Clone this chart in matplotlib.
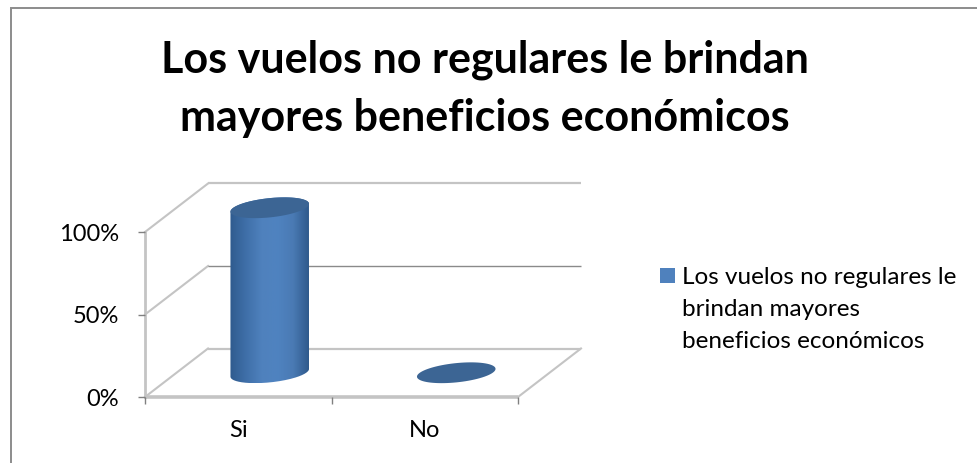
import numpy as np
import matplotlib
matplotlib.use("Agg")
import matplotlib.pyplot as plt
from matplotlib.patches import Polygon, Rectangle, PathPatch
from matplotlib.path import Path
from matplotlib.colors import LinearSegmentedColormap

W, H = 977, 463

categories = ["Si", "No"]
values = [100, 0]
y_ticks = [0, 50, 100]
y_labels = ["0%", "50%", "100%"]
title_lines = ["Los vuelos no regulares le brindan", "mayores beneficios económicos"]
legend_lines = ["Los vuelos no regulares le", "brindan mayores", "beneficios económicos"]

plt.rcParams["font.family"] = ["Lato", "DejaVu Sans"]

fig = plt.figure(figsize=(W / 100, H / 100), dpi=100, facecolor="white")

# Chart frame
fig.add_artist(Rectangle((10.5 / W, -0.01), (W + 20) / W, 1.01 - 7.5 / H,
                         transform=fig.transFigure, fill=False,
                         edgecolor="#8c8c8c", linewidth=1.4))

# Front plane of the 3-D plot box
left, right, bottom, top = 145, 518, 397, 232
ax = fig.add_axes([left / W, 1 - bottom / H, (right - left) / W, (bottom - top) / H])
ax.set_xlim(0, len(categories))
ax.set_ylim(0, 100)
ax.patch.set_visible(False)
for s in ax.spines.values():
    s.set_visible(False)

# Oblique projection: depth in [0, 1] shifts a point back and up
px_x = (right - left) / len(categories)
px_y = (bottom - top) / 100
depth_x = 63 / px_x
depth_y = 48.5 / px_y


def project(x, v, d):
    return x + d * depth_x, v + d * depth_y


# Walls and floor
wall_light = "#c4c4c4"
wall_dark = "#8a8a8a"
for v in y_ticks:
    x0, y0 = project(0, v, 0)
    x1, y1 = project(0, v, 1)
    x2, y2 = project(len(categories), v, 1)
    ax.plot([x0, x1], [y0, y1], color=wall_light, lw=1.5, clip_on=False, zorder=1)
    colour, lw = (wall_dark, 1.0) if v == 50 else (wall_light, 1.6)
    ax.plot([x1, x2], [y1, y2], color=colour, lw=lw, clip_on=False,
            solid_capstyle="butt", zorder=1)
x0, y0 = project(len(categories), 0, 0)
x1, y1 = project(len(categories), 0, 1)
ax.plot([x0, x1], [y0, y1], color=wall_light, lw=1.5, clip_on=False, zorder=1)
ax.plot([0, 0], [0, 100], color=wall_light, lw=2.0, clip_on=False, zorder=1)
ax.plot([0, len(categories)], [0, 0], color=wall_light, lw=2.6, clip_on=False,
        solid_capstyle="butt", zorder=1)

# Cylinders
half_w = 39.5
half_h = 9.6
tilt = np.radians(6)
body_cmap = LinearSegmentedColormap.from_list(
    "body", ["#2f5b8e", "#3f6fa8", "#4f81bd", "#4f83c0", "#4a7ab4", "#2f5a8c"])
cap_colour = "#3c6594"


def ellipse_arc(cx, v, t0, t1, n=80):
    t = np.linspace(t0, t1, n)
    dx = half_w * np.cos(t) * np.cos(tilt) - half_h * np.sin(t) * np.sin(tilt)
    dy = half_w * np.cos(t) * np.sin(tilt) + half_h * np.sin(t) * np.cos(tilt)
    return np.column_stack([cx + dx / px_x, v + dy / px_y])


for i, val in enumerate(values):
    cx, base = project(i + 0.5, 0, 0.5)
    _, top_v = project(i + 0.5, val, 0.5)
    if val > 0:
        lower = ellipse_arc(cx, base, np.pi, 2 * np.pi)
        upper = ellipse_arc(cx, top_v, 0, np.pi)
        outline = np.vstack([lower, upper, lower[:1]])
        clip = PathPatch(Path(outline), transform=ax.transData,
                         facecolor="none", edgecolor="none")
        ax.add_patch(clip)
        grad = np.linspace(0, 1, 256).reshape(1, -1)
        im = ax.imshow(grad, cmap=body_cmap, aspect="auto", zorder=3,
                       extent=[outline[:, 0].min(), outline[:, 0].max(),
                               outline[:, 1].min(), outline[:, 1].max()])
        im.set_clip_path(clip)
        im.set_clip_box(fig.bbox)
    ax.add_patch(Polygon(ellipse_arc(cx, top_v, 0, 2 * np.pi), closed=True,
                         facecolor=cap_colour, edgecolor="none", zorder=4,
                         clip_on=False))
ax.set_xlim(0, len(categories))
ax.set_ylim(0, 100)

# Axis ticks and labels
ax.set_yticks(y_ticks)
ax.set_yticklabels(y_labels, fontsize=17, color="black")
ax.set_xticks(range(len(categories) + 1))
ax.set_xticklabels([])
ax.tick_params(axis="both", length=5, width=1, color="#808080")
ax.tick_params(axis="y", pad=13.5)
for tick in ax.get_xticklines():
    tick.set_clip_on(False)
for i, name in enumerate(categories):
    ax.annotate(name, (i + 0.5, 0), xytext=(0, -24), textcoords="offset points",
                ha="center", va="center", fontsize=17, color="black",
                annotation_clip=False)

# Title
for line, yp in zip(title_lines, [60, 118]):
    fig.text(485 / W, 1 - yp / H, line, fontsize=31, fontweight="bold",
             ha="center", va="center", color="black")

# Legend
fig.add_artist(Rectangle((660 / W, 1 - 283 / H), 15 / W, 15 / H,
                         transform=fig.transFigure, facecolor="#4f81bd",
                         edgecolor="none"))
for line, yp in zip(legend_lines, [277, 309, 341]):
    fig.text(682 / W, 1 - yp / H, line, fontsize=17.5, ha="left", va="center",
             color="black")

fig.savefig("out.png", dpi=100)
